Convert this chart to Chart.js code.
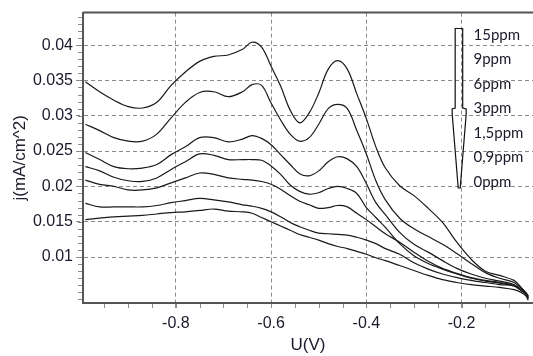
<!DOCTYPE html>
<html>
<head>
<meta charset="utf-8">
<script src="https://cdn.jsdelivr.net/npm/chart.js@4.4.1/dist/chart.umd.min.js"></script>
<style>
  html, body { margin: 0; padding: 0; background: #fff; }
  #wrap { width: 533px; height: 356px; position: relative; }
</style>
</head>
<body>
<div id="wrap"><canvas id="chart"></canvas></div>
<script>
// potential U (V), shared by all curves
const voltage = [-0.99, -0.96, -0.93, -0.90, -0.87, -0.84, -0.81, -0.78, -0.75, -0.72,
  -0.69, -0.66, -0.64, -0.62, -0.60, -0.58, -0.56, -0.54, -0.52, -0.50,
  -0.48, -0.46, -0.44, -0.42, -0.40, -0.38, -0.36, -0.33, -0.30, -0.27,
  -0.24, -0.21, -0.18, -0.15, -0.12, -0.09, -0.075, -0.065, -0.06];

// current density j (mA/cm^2) per concentration
const j15ppm = [0.0348, 0.0334, 0.0322, 0.0313, 0.0311, 0.0319, 0.0343, 0.0362, 0.0377, 0.0384,
  0.0386, 0.0394, 0.0404, 0.0397, 0.0370, 0.0342, 0.0308, 0.0290, 0.0304, 0.0332,
  0.0366, 0.0378, 0.0366, 0.0331, 0.0296, 0.0256, 0.0226, 0.0201, 0.0187, 0.0169,
  0.0149, 0.0121, 0.0097, 0.0080, 0.0074, 0.0067, 0.0057, 0.0049, 0.0042];
const j9ppm = [0.0288, 0.0279, 0.0269, 0.0264, 0.0264, 0.0274, 0.0297, 0.0319, 0.0333, 0.0334,
  0.0327, 0.0334, 0.0344, 0.0343, 0.0318, 0.0294, 0.0274, 0.0264, 0.0269, 0.0288,
  0.0310, 0.0316, 0.0310, 0.0279, 0.0246, 0.0208, 0.0181, 0.0155, 0.0140, 0.0129,
  0.0118, 0.0105, 0.0091, 0.0078, 0.0070, 0.0064, 0.0056, 0.0050, 0.0045];
const j6ppm = [0.0248, 0.0238, 0.0228, 0.0225, 0.0226, 0.0231, 0.0245, 0.0256, 0.0269, 0.0269,
  0.0263, 0.0267, 0.0272, 0.0268, 0.0259, 0.0245, 0.0231, 0.0218, 0.0215, 0.0222,
  0.0235, 0.0242, 0.0239, 0.0228, 0.0204, 0.0177, 0.0160, 0.0135, 0.0118, 0.0107,
  0.0095, 0.0084, 0.0076, 0.0070, 0.0066, 0.0061, 0.0054, 0.0049, 0.0045];
const j3ppm = [0.0228, 0.0222, 0.0213, 0.0208, 0.0207, 0.0212, 0.0224, 0.0235, 0.0246, 0.0244,
  0.0238, 0.0238, 0.0238, 0.0237, 0.0229, 0.0217, 0.0202, 0.0193, 0.0189, 0.0191,
  0.0197, 0.0200, 0.0197, 0.0190, 0.0170, 0.0156, 0.0142, 0.0119, 0.0102, 0.0091,
  0.0083, 0.0076, 0.0070, 0.0066, 0.0063, 0.0059, 0.0053, 0.0048, 0.0043];
const j1_5ppm = [0.0209, 0.0203, 0.0200, 0.0195, 0.0195, 0.0198, 0.0205, 0.0212, 0.0219, 0.0217,
  0.0212, 0.0210, 0.0209, 0.0207, 0.0203, 0.0196, 0.0187, 0.0179, 0.0174, 0.0169,
  0.0170, 0.0173, 0.0171, 0.0162, 0.0153, 0.0143, 0.0133, 0.0121, 0.0107, 0.0094,
  0.0084, 0.0077, 0.0071, 0.0067, 0.0064, 0.0060, 0.0053, 0.0048, 0.0042];
const j0_9ppm = [0.0176, 0.0171, 0.0171, 0.0171, 0.0171, 0.0173, 0.0177, 0.0180, 0.0183, 0.0181,
  0.0178, 0.0174, 0.0172, 0.0169, 0.0164, 0.0157, 0.0149, 0.0143, 0.0138, 0.0134,
  0.0133, 0.0132, 0.0131, 0.0128, 0.0124, 0.0119, 0.0112, 0.0104, 0.0092, 0.0083,
  0.0076, 0.0071, 0.0067, 0.0064, 0.0061, 0.0059, 0.0053, 0.0048, 0.0041];
const j0ppm = [0.0153, 0.0155, 0.0157, 0.0158, 0.0159, 0.0161, 0.0163, 0.0164, 0.0166, 0.0168,
  0.0165, 0.0164, 0.0162, 0.0156, 0.0150, 0.0144, 0.0138, 0.0132, 0.0128, 0.0124,
  0.0119, 0.0115, 0.0112, 0.0108, 0.0104, 0.0099, 0.0095, 0.0088, 0.0081, 0.0074,
  0.0068, 0.0064, 0.0061, 0.0059, 0.0057, 0.0054, 0.0050, 0.0045, 0.0039];

const seriesNames = ['15ppm', '9ppm', '6ppm', '3ppm', '1,5ppm', '0,9ppm', '0ppm'];
const seriesValues = [j15ppm, j9ppm, j6ppm, j3ppm, j1_5ppm, j0_9ppm, j0ppm];

const xTicks = [-0.8, -0.6, -0.4, -0.2];
const xTickLabels = ['-0.8', '-0.6', '-0.4', '-0.2'];
const yTicks = [0.01, 0.015, 0.02, 0.025, 0.03, 0.035, 0.04];
const yTickLabels = ['0.01', '0.015', '0.02', '0.025', '0.03', '0.035', '0.04'];

const textColor = '#1a1a2a';
const gridColor = '#8a8a8a';
const axisColor = '#555';

// top frame line + minor ticks
const framePlugin = {
  id: 'frame',
  afterDraw(chart) {
    const { ctx, chartArea: a, scales: { x, y } } = chart;
    ctx.save();
    ctx.strokeStyle = axisColor;
    ctx.lineWidth = 2;
    ctx.beginPath();
    ctx.moveTo(a.left, a.top);
    ctx.lineTo(a.right, a.top);
    ctx.stroke();

    ctx.strokeStyle = gridColor;
    ctx.lineWidth = 1;
    ctx.beginPath();
    for (let v = 0.004; v <= 0.0445; v += 0.001) {
      const py = Math.round(y.getPixelForValue(v)) + 0.5;
      ctx.moveTo(a.left - 5, py);
      ctx.lineTo(a.left - 1, py);
    }
    for (let v = -0.95; v <= -0.05; v += 0.05) {
      const px = Math.round(x.getPixelForValue(v)) + 0.5;
      ctx.moveTo(px, a.bottom + 1);
      ctx.lineTo(px, a.bottom + 5);
    }
    ctx.stroke();
    ctx.restore();
  }
};

// arrow legend on the right
const arrowLegend = {
  id: 'arrowLegend',
  afterDraw(chart) {
    const { ctx } = chart;
    const cx = chart.scales.x.getPixelForValue(-0.205);
    ctx.save();
    ctx.strokeStyle = '#111';
    ctx.lineWidth = 1.2;
    ctx.beginPath();
    ctx.moveTo(cx - 4, 28.5);
    ctx.lineTo(cx + 3.5, 28.5);
    ctx.lineTo(cx + 3.5, 108);
    ctx.lineTo(cx + 7, 109);
    ctx.lineTo(cx + 7, 114);
    ctx.lineTo(cx + 1, 188);
    ctx.lineTo(cx - 1, 188);
    ctx.lineTo(cx - 7, 114);
    ctx.lineTo(cx - 7, 109);
    ctx.lineTo(cx - 4, 108);
    ctx.closePath();
    ctx.stroke();

    ctx.fillStyle = textColor;
    ctx.font = '15px Lato, "Open Sans", sans-serif';
    ctx.textBaseline = 'middle';
    ctx.textAlign = 'left';
    const lx = chart.scales.x.getPixelForValue(-0.175);
    seriesNames.forEach((name, i) => {
      ctx.fillText(name, lx, 35 + i * 24.5);
    });
    ctx.restore();
  }
};

const datasets = seriesNames.map((name, i) => ({
  label: name,
  data: voltage.map((u, k) => ({ x: u, y: seriesValues[i][k] })),
  borderColor: '#1a1a1a',
  borderWidth: 1.2,
  pointRadius: 0,
  tension: 0.35,
  fill: false
}));

const tickFont = { family: '"Liberation Sans", Arial, sans-serif', size: 16 };
const titleFont = { family: '"Liberation Sans", Arial, sans-serif', size: 17 };

new Chart(document.getElementById('chart'), {
  type: 'line',
  data: { datasets },
  options: {
    responsive: true,
    maintainAspectRatio: false,
    animation: false,
    layout: { padding: { top: 11, right: 0, bottom: 0, left: 0 } },
    plugins: { legend: { display: false }, tooltip: { enabled: false } },
    scales: {
      x: {
        type: 'linear',
        min: -0.995,
        max: -0.05,
        afterBuildTicks: (s) => { s.ticks = xTicks.map(v => ({ value: v })); },
        afterFit: (s) => { s.height = 53; },
        ticks: {
          autoSkip: false,
          maxRotation: 0,
          padding: 3,
          color: textColor,
          font: tickFont,
          callback: (v) => { const i = xTicks.indexOf(v); return i >= 0 ? xTickLabels[i] : ''; }
        },
        grid: {
          color: gridColor,
          lineWidth: 1,
          borderDash: [4, 3],
          tickLength: 8,
          tickColor: gridColor,
          tickBorderDash: [4, 3]
        },
        border: { color: axisColor, width: 2, dash: [4, 3] },
        title: {
          display: true,
          text: 'U(V)',
          color: textColor,
          font: titleFont,
          padding: { top: 0, bottom: 0 }
        }
      },
      y: {
        type: 'linear',
        min: 0.0035,
        max: 0.0446,
        afterBuildTicks: (s) => { s.ticks = yTicks.map(v => ({ value: v })); },
        afterFit: (s) => { s.width = 83; },
        ticks: {
          autoSkip: false,
          padding: 3,
          color: textColor,
          font: tickFont,
          callback: (v) => { const i = yTicks.indexOf(v); return i >= 0 ? yTickLabels[i] : ''; }
        },
        grid: {
          color: gridColor,
          lineWidth: 1,
          borderDash: [4, 3],
          tickLength: 7,
          tickColor: gridColor,
          tickBorderDash: [4, 3]
        },
        border: { color: axisColor, width: 2, dash: [4, 3] },
        title: {
          display: true,
          text: 'j(mA/cm^2)',
          color: textColor,
          font: titleFont,
          padding: { top: 10, bottom: 0 }
        }
      }
    }
  },
  plugins: [framePlugin, arrowLegend]
});
</script>
</body>
</html>
